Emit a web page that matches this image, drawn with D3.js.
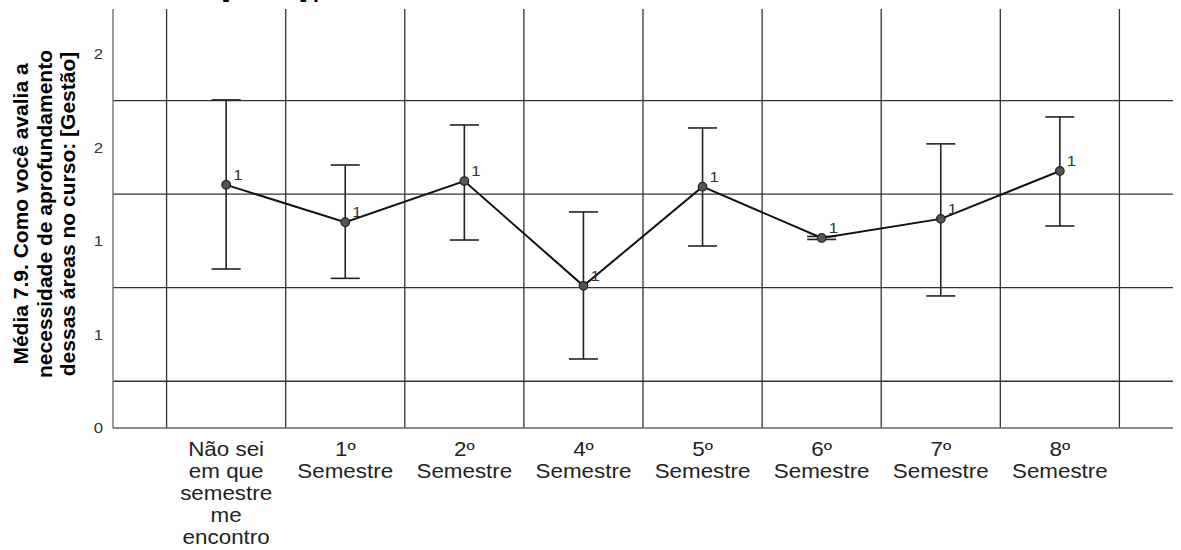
<!DOCTYPE html>
<html>
<head>
<meta charset="utf-8">
<script src="https://cdn.jsdelivr.net/npm/d3@7"></script>
<style>
  body { margin: 0; background: #fff; }
  svg { display: block; font-family: "Liberation Sans", Arial, sans-serif; }
</style>
</head>
<body>
<svg id="chart" width="1181" height="550"></svg>
<script>
// Chart values
const categories = ["Não sei", "1º", "2º", "4º", "5º", "6º", "7º", "8º"];
const categoryLines = [
  ["Não sei", "em que", "semestre", "me", "encontro"],
  ["1º", "Semestre"],
  ["2º", "Semestre"],
  ["4º", "Semestre"],
  ["5º", "Semestre"],
  ["6º", "Semestre"],
  ["7º", "Semestre"],
  ["8º", "Semestre"]
];
const means = [1.30, 1.10, 1.32, 0.76, 1.29, 1.016, 1.118, 1.374];
const lowerCI = [0.85, 0.80, 1.005, 0.369, 0.973, 1.008, 0.706, 1.08];
const upperCI = [1.754, 1.406, 1.62, 1.155, 1.604, 1.024, 1.519, 1.663];
const pointLabels = ["1", "1", "1", "1", "1", "1", "1", "1"];

const yTicks = [0, 0.5, 1, 1.5, 2];
const yTickLabels = ["0", "1", "1", "2", "2"];
const yGridValues = [0.25, 0.75, 1.25, 1.75];

const yTitleLines = [
  "Média 7.9. Como você avalia a",
  "necessidade de aprofundamento",
  "dessas áreas no curso: [Gestão]"
];
const topTitle = "[Gestão] por Semestre do curso";

// Layout
const plotLeft = 113, plotRight = 1173, plotTop = 9, plotBottom = 428;
const stretch = 1.12; // reference text is a bit wider than Arial

const svg = d3.select("#chart");

const x = d3.scaleBand()
  .domain(categories)
  .range([plotLeft, plotRight])
  .paddingInner(0)
  .paddingOuter(0.45);

const y = d3.scaleLinear()
  .domain([0, 2.24])
  .range([plotBottom, plotTop]);

const cx = c => x(c) + x.bandwidth() / 2;

// Title (mostly cut off above the picture)
svg.append("text")
  .attr("x", 222)
  .attr("y", -2)
  .style("font-size", "21px")
  .style("font-weight", "bold")
  .style("fill", "#000")
  .text(topTitle);

// Horizontal grid lines
svg.append("g")
  .selectAll("line")
  .data(yGridValues)
  .join("line")
  .attr("x1", plotLeft)
  .attr("x2", plotRight)
  .attr("y1", d => y(d))
  .attr("y2", d => y(d))
  .style("stroke", "#333")
  .style("stroke-width", 1.3);

// Vertical grid lines at band edges
let edges = categories.map(c => x(c));
edges.push(x(categories[categories.length - 1]) + x.bandwidth());

svg.append("g")
  .selectAll("line")
  .data(edges)
  .join("line")
  .attr("x1", d => d)
  .attr("x2", d => d)
  .attr("y1", plotTop)
  .attr("y2", plotBottom)
  .style("stroke", "#333")
  .style("stroke-width", 1.3);

// Axes lines
svg.append("line")
  .attr("x1", plotLeft).attr("x2", plotLeft)
  .attr("y1", plotTop).attr("y2", plotBottom)
  .style("stroke", "#666")
  .style("stroke-width", 1.3);

svg.append("line")
  .attr("x1", plotLeft).attr("x2", plotRight)
  .attr("y1", plotBottom).attr("y2", plotBottom)
  .style("stroke", "#666")
  .style("stroke-width", 1.3);

// Y tick labels
svg.append("g")
  .selectAll("text")
  .data(yTicks)
  .join("text")
  .attr("transform", d => `translate(103,${y(d)}) scale(${stretch},1)`)
  .attr("dy", "0.36em")
  .attr("text-anchor", "end")
  .style("font-size", "15px")
  .style("fill", "#333")
  .text((d, i) => yTickLabels[i]);

// Y title
let yTitle = svg.append("text")
  .attr("transform", "translate(28,214) rotate(-90)")
  .attr("text-anchor", "middle")
  .style("font-size", "21px")
  .style("font-weight", "bold")
  .style("fill", "#000");

yTitle.selectAll("tspan")
  .data(yTitleLines)
  .join("tspan")
  .attr("x", 0)
  .attr("dy", (d, i) => i === 0 ? 0 : 23.5)
  .text(d => d);

// Category labels
let catGroup = svg.append("g");
categories.forEach((c, i) => {
  let t = catGroup.append("text")
    .attr("transform", `translate(${cx(c)},0) scale(${stretch},1)`)
    .attr("text-anchor", "middle")
    .style("font-size", "20px")
    .style("fill", "#222");
  t.selectAll("tspan")
    .data(categoryLines[i])
    .join("tspan")
    .attr("x", 0)
    .attr("y", (d, j) => 456 + j * 22)
    .text(d => d);
});

// White backing boxes behind the point labels
svg.append("g")
  .selectAll("rect")
  .data(categories)
  .join("rect")
  .attr("x", d => cx(d) + 4)
  .attr("y", (d, i) => y(means[i]) - 15)
  .attr("width", 15)
  .attr("height", 16)
  .style("fill", "#fff");

// Error bars
let bars = svg.append("g")
  .style("stroke", "#222")
  .style("stroke-width", 1.6);

categories.forEach((c, i) => {
  let xc = cx(c);
  bars.append("line")
    .attr("x1", xc).attr("x2", xc)
    .attr("y1", y(lowerCI[i])).attr("y2", y(upperCI[i]));
  bars.append("line")
    .attr("x1", xc - 14.5).attr("x2", xc + 14.5)
    .attr("y1", y(lowerCI[i])).attr("y2", y(lowerCI[i]));
  bars.append("line")
    .attr("x1", xc - 14.5).attr("x2", xc + 14.5)
    .attr("y1", y(upperCI[i])).attr("y2", y(upperCI[i]));
});

// Mean line
let line = d3.line()
  .x((d, i) => cx(categories[i]))
  .y(d => y(d));

svg.append("path")
  .datum(means)
  .attr("d", line)
  .style("fill", "none")
  .style("stroke", "#111")
  .style("stroke-width", 2);

// Points
svg.append("g")
  .selectAll("circle")
  .data(means)
  .join("circle")
  .attr("cx", (d, i) => cx(categories[i]))
  .attr("cy", d => y(d))
  .attr("r", 4.3)
  .style("fill", "#555")
  .style("stroke", "#222")
  .style("stroke-width", 1.2);

// Point labels
svg.append("g")
  .selectAll("text")
  .data(means)
  .join("text")
  .attr("transform", (d, i) => `translate(${cx(categories[i]) + 7},${y(d) - 5}) scale(${stretch},1)`)
  .style("font-size", "15px")
  .style("fill", "#333")
  .text((d, i) => pointLabels[i]);
</script>
</body>
</html>
